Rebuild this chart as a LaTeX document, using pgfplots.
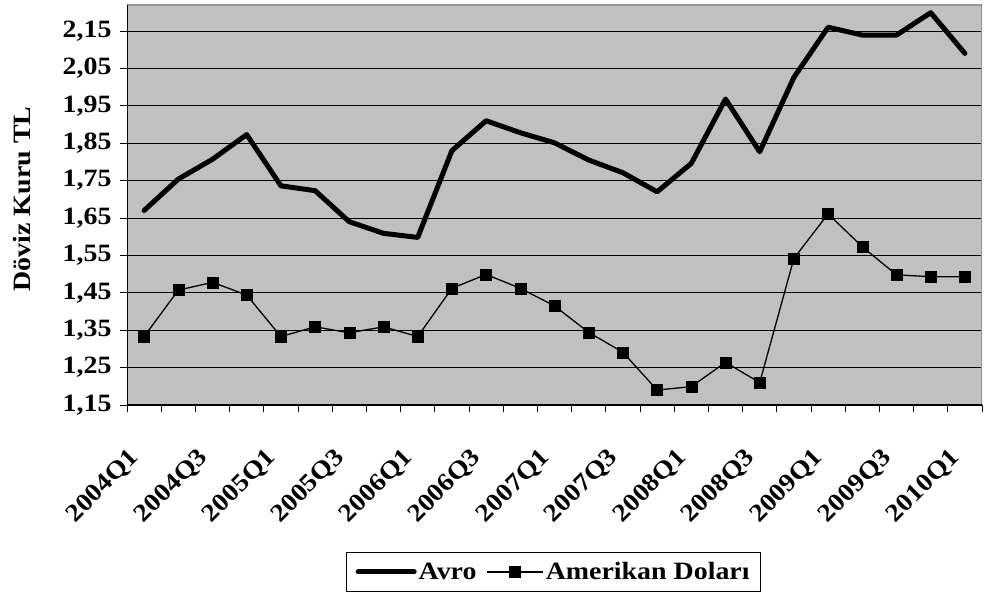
\documentclass[border=0pt]{standalone}
\usepackage{pgfplots}
\pgfplotsset{compat=1.18}
\usepackage{fontspec}
\setmainfont{Liberation Serif}[FakeStretch=1.12]
\definecolor{plotbg}{RGB}{192,192,192}
\definecolor{frameGray}{RGB}{150,150,150}

\begin{document}
\begin{tikzpicture}[x=1bp,y=1bp]
\useasboundingbox (0,0) rectangle (984,595);
\begin{axis}[
  at={(127bp,190bp)}, anchor=south west,
  scale only axis, width=855bp, height=400bp,
  xmin=0, xmax=25, ymin=1.15, ymax=2.2195,
  axis background/.style={fill=plotbg},
  axis line style={draw=none},
  font=\fontsize{25}{30}\selectfont\bfseries,
  tick align=outside, xtick pos=left, ytick pos=left,
  major tick length=7bp,
  tick style={black, line width=0.8bp},
  xtick={0,1,...,25}, xticklabels={},
  extra x ticks={0.5,2.5,...,24.5},
  extra x tick labels={2004Q1,2004Q3,2005Q1,2005Q3,2006Q1,2006Q3,2007Q1,2007Q3,2008Q1,2008Q3,2009Q1,2009Q3,2010Q1},
  extra x tick style={major tick length=0pt, grid=none,
    tick label style={xshift=-16bp, yshift=-37bp, rotate=45, anchor=north east}},
  ytick={1.15,1.25,1.35,1.45,1.55,1.65,1.75,1.85,1.95,2.05,2.15},
  yticklabel style={xshift=-5bp, /pgf/number format/.cd, fixed, fixed zerofill, precision=2, use comma, assume math mode=true},
  ymajorgrids, grid style={black, line width=0.9bp},
  every axis y label/.style={at={(axis description cs:-0.123,0.515)}, rotate=90, anchor=center},
  ylabel={Döviz Kuru TL},
  legend style={at={(axis description cs:0.499,-0.4175)}, anchor=center,
    draw=black, line width=0.8bp, fill=white, inner xsep=9bp, inner ysep=8bp,
    font=\fontsize{25}{30}\selectfont\bfseries},
  legend columns=2,
  /tikz/every even column/.append style={column sep=8bp},
  legend image code/.code={\draw[mark repeat=2,mark phase=2,#1] plot coordinates {(0bp,0bp) (28bp,0bp) (56bp,0bp)};},
]
% Euro rate, quarterly
\addplot[black, line width=5bp, line join=round, line cap=round] table {
x y
0.5 1.670
1.5 1.754
2.5 1.807
3.5 1.873
4.5 1.736
5.5 1.723
6.5 1.640
7.5 1.609
8.5 1.598
9.5 1.830
10.5 1.910
11.5 1.878
12.5 1.851
13.5 1.805
14.5 1.771
15.5 1.720
16.5 1.796
17.5 1.968
18.5 1.827
19.5 2.026
20.5 2.160
21.5 2.139
22.5 2.139
23.5 2.199
24.5 2.090
};
\addlegendentry{Avro}
% US dollar rate, quarterly
\addplot[black, line width=1.3bp, mark=square*, mark size=5.5bp, mark options={line width=0.5bp}] table {
x y
0.5 1.333
1.5 1.457
2.5 1.478
3.5 1.444
4.5 1.333
5.5 1.359
6.5 1.343
7.5 1.359
8.5 1.333
9.5 1.462
10.5 1.499
11.5 1.462
12.5 1.415
13.5 1.344
14.5 1.291
15.5 1.190
16.5 1.199
17.5 1.264
18.5 1.210
19.5 1.542
20.5 1.661
21.5 1.573
22.5 1.498
23.5 1.493
24.5 1.493
};
\addlegendentry{Amerikan Doları}
% plot frame: light top/right edges, black axes on left/bottom
\draw[frameGray, line width=1.5bp] (rel axis cs:0,1) -- (rel axis cs:1,1) -- (rel axis cs:1,0);
\draw[black, line width=1.2bp] (rel axis cs:0,1) -- (rel axis cs:0,0) -- (rel axis cs:1,0);
\end{axis}
\end{tikzpicture}
\end{document}
